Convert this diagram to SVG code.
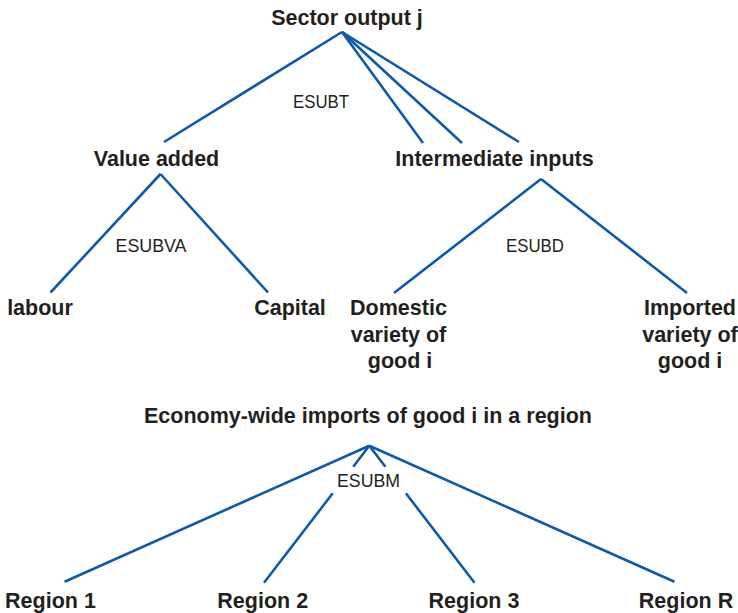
<svg xmlns="http://www.w3.org/2000/svg" width="738" height="613" viewBox="0 0 738 613">
<style>
.n{font-family:"Liberation Sans",Arial,sans-serif;font-weight:bold;font-size:21.5px;fill:#231f20;text-anchor:middle}
.e{font-family:"Liberation Sans",Arial,sans-serif;font-size:18.5px;fill:#231f20;text-anchor:middle;lengthAdjust:spacingAndGlyphs}
.c line{stroke:#0d5aa7;stroke-width:2.6;stroke-linecap:butt}
</style>
<rect width="738" height="613" fill="#ffffff"/>
<g class="c" id="connectors">
<line x1="342" y1="32" x2="164" y2="142"/>
<line x1="342" y1="32" x2="423" y2="143"/>
<line x1="342" y1="32" x2="462" y2="143"/>
<line x1="342" y1="32" x2="519" y2="142"/>
<line x1="160.5" y1="174" x2="50.5" y2="292.5"/>
<line x1="160.5" y1="174" x2="268" y2="292.5"/>
<line x1="541" y1="179" x2="394" y2="293"/>
<line x1="541" y1="179" x2="687" y2="293"/>
<line x1="369.3" y1="445.7" x2="64.6" y2="581.7"/>
<line x1="369.3" y1="445.7" x2="674.5" y2="581.7"/>
<line x1="369.3" y1="445.7" x2="353.2" y2="466.7"/>
<line x1="332.7" y1="493.3" x2="264" y2="582.7"/>
<line x1="369.3" y1="445.7" x2="385.4" y2="466.7"/>
<line x1="405.9" y1="493.3" x2="474.5" y2="582.7"/>
</g>
<g id="sector"><text class="n" x="347" y="25">Sector output j</text></g>
<g id="esubt"><text class="e" x="321" y="108" textLength="56" lengthAdjust="spacingAndGlyphs">ESUBT</text></g>
<g id="valueadded"><text class="n" x="156.5" y="166">Value added</text></g>
<g id="intermediate"><text class="n" x="494.5" y="166">Intermediate inputs</text></g>
<g id="esubva"><text class="e" x="151" y="252" textLength="71" lengthAdjust="spacingAndGlyphs">ESUBVA</text></g>
<g id="esubd"><text class="e" x="535" y="252" textLength="58" lengthAdjust="spacingAndGlyphs">ESUBD</text></g>
<g id="labour"><text class="n" x="40" y="315">labour</text></g>
<g id="capital"><text class="n" x="290" y="315">Capital</text></g>
<g id="domestic"><text class="n" x="398.5" y="315">Domestic</text><text class="n" x="398.5" y="341.5">variety of</text><text class="n" x="400" y="368">good i</text></g>
<g id="imported"><text class="n" x="690" y="315">Imported</text><text class="n" x="690" y="341.5">variety of</text><text class="n" x="690" y="368">good i</text></g>
<g id="economy"><text class="n" x="368" y="423">Economy-wide imports of good i in a region</text></g>
<g id="esubm"><text class="e" x="368.5" y="487" textLength="63" lengthAdjust="spacingAndGlyphs">ESUBM</text></g>
<g id="region1"><text class="n" x="50.5" y="608">Region 1</text></g>
<g id="region2"><text class="n" x="262.7" y="608">Region 2</text></g>
<g id="region3"><text class="n" x="474" y="608">Region 3</text></g>
<g id="regionR"><text class="n" x="686" y="608">Region R</text></g>
</svg>
